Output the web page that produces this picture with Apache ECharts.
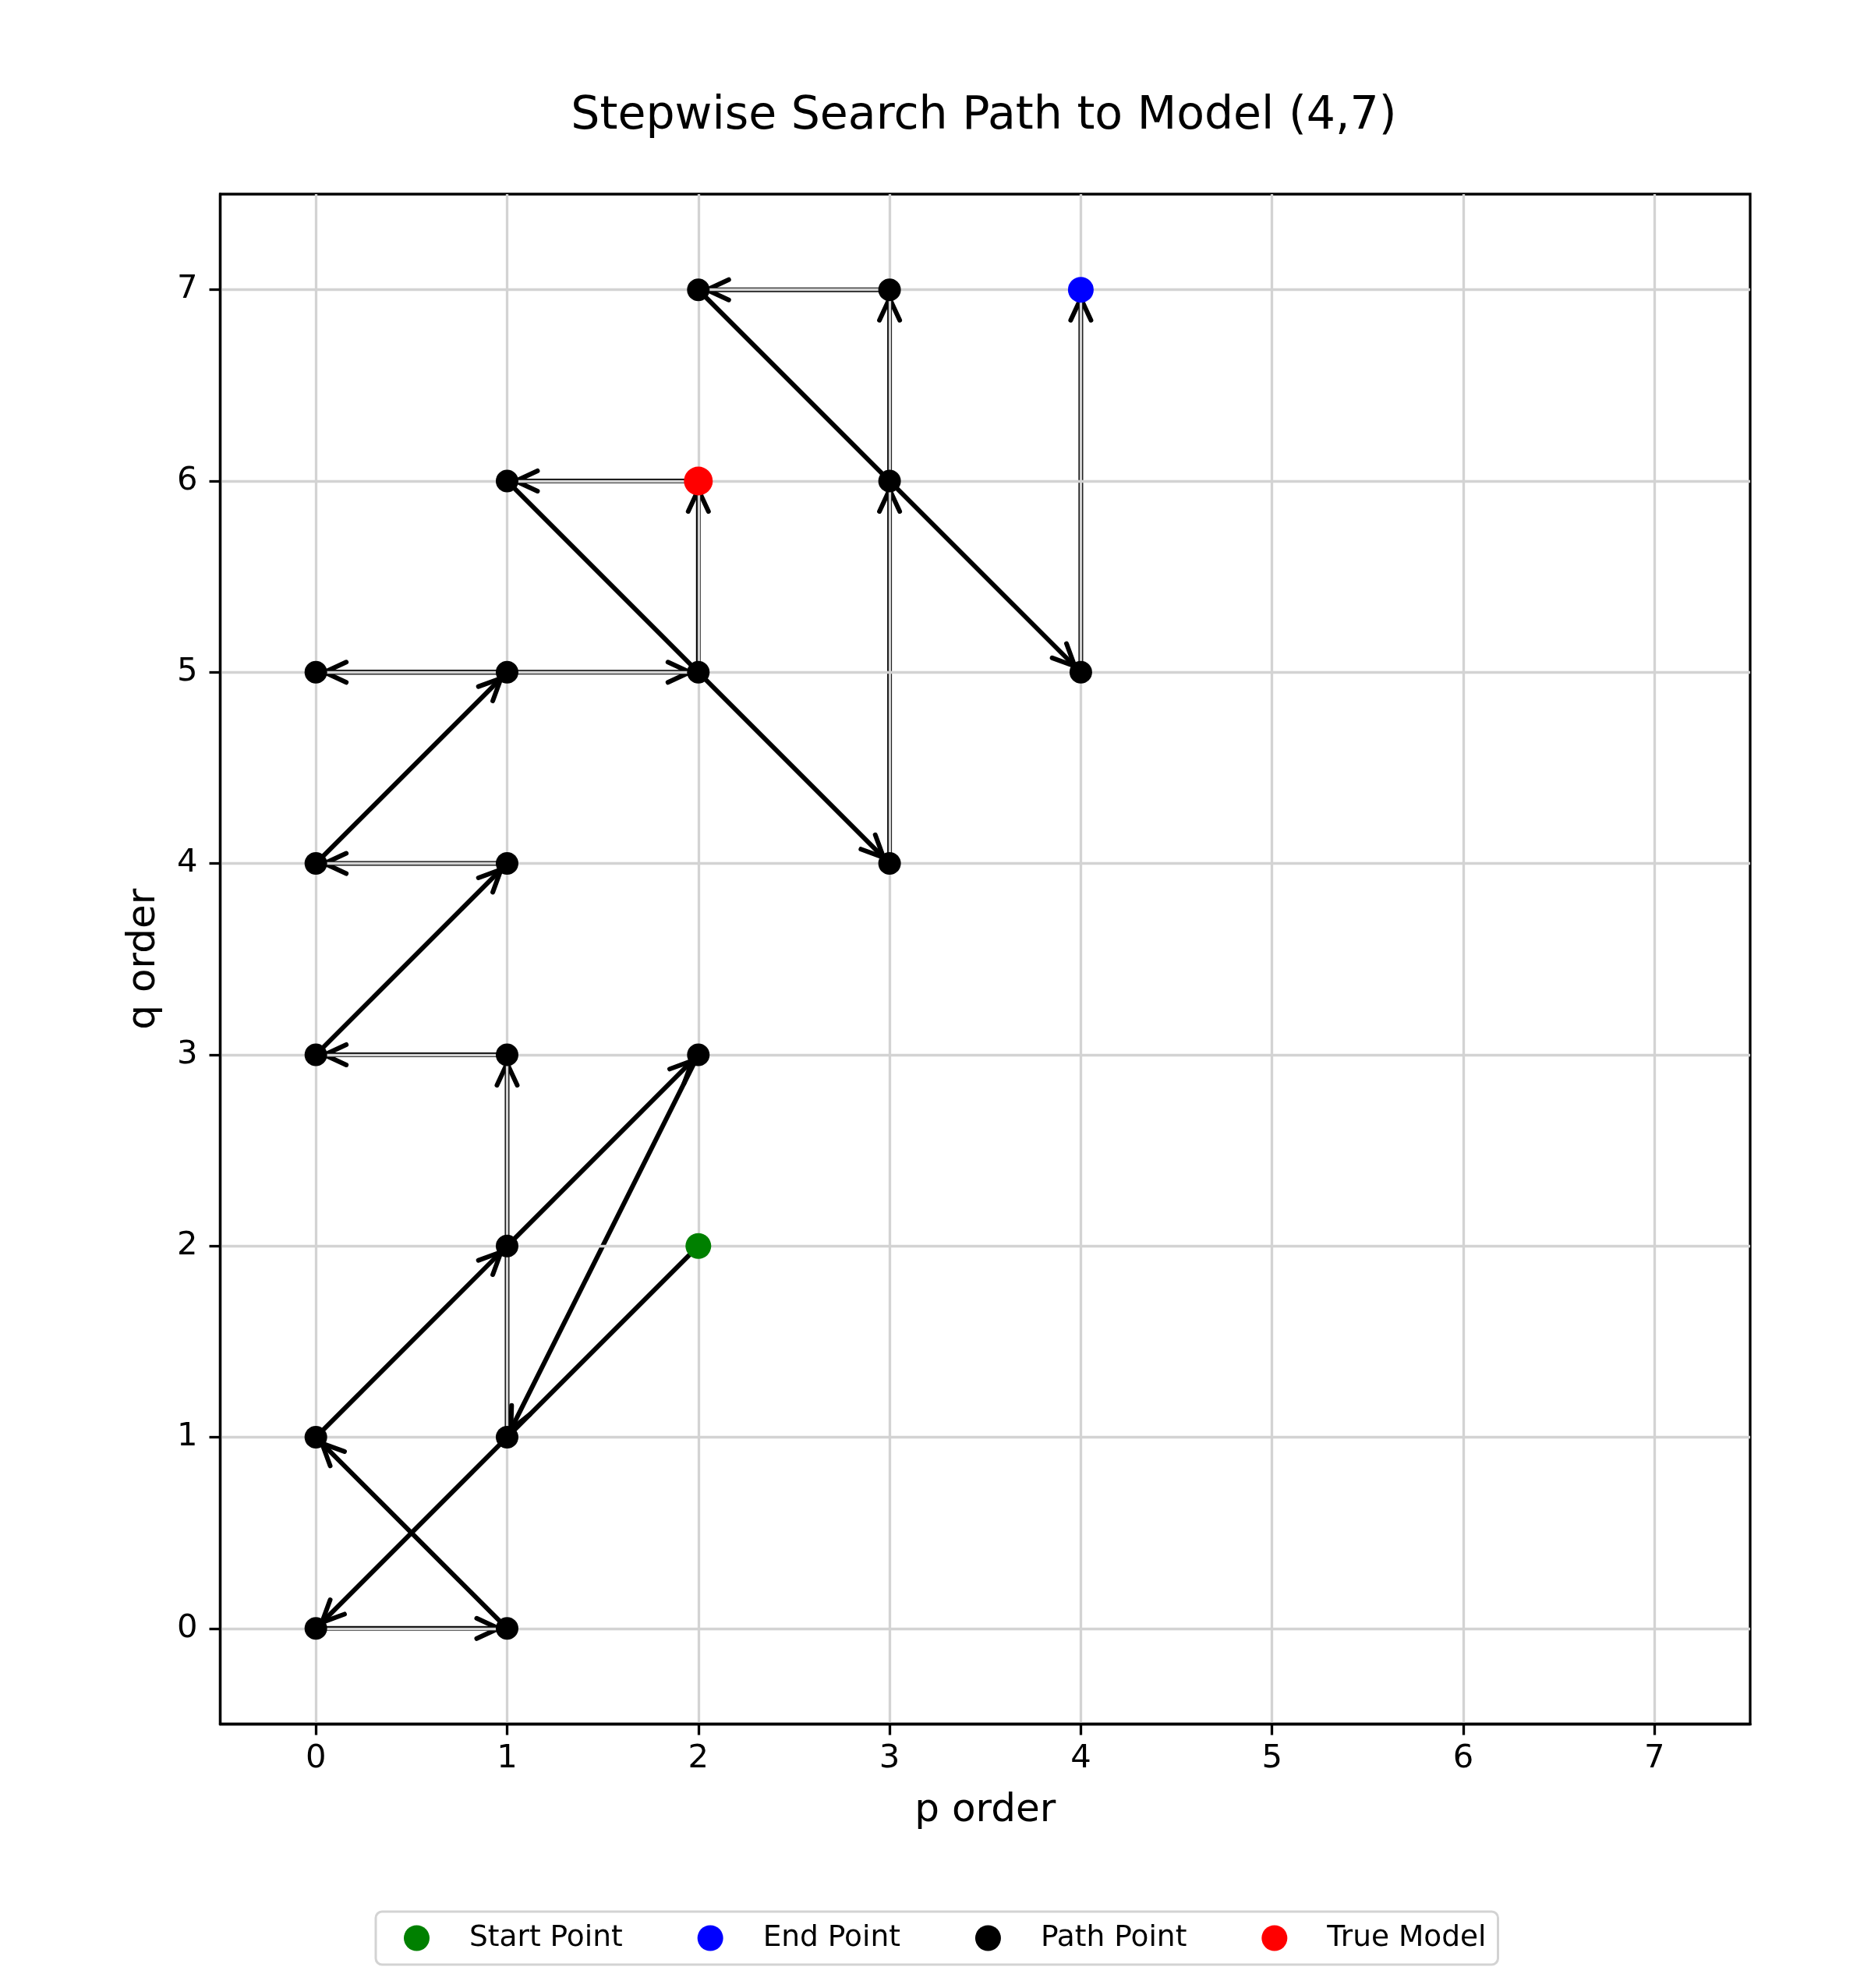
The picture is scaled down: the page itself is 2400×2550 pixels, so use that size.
<!DOCTYPE html>
<html>
<head>
<meta charset="utf-8">
<script src="https://cdn.jsdelivr.net/npm/echarts@6/dist/echarts.min.js"></script>
<style>
html, body { margin: 0; padding: 0; background: #fff; }
#chart { width: 2400px; height: 2550px; }
</style>
</head>
<body>
<div id="chart"></div>
<script>
// visited (p,q) models in search order
var pPath = [2, 0, 1, 0, 1, 2, 1, 1, 0, 1, 0, 1, 0, 2, 2, 1, 3, 3, 3, 2, 4, 4];
var qPath = [2, 0, 0, 1, 2, 3, 1, 3, 3, 4, 4, 5, 5, 5, 6, 6, 4, 6, 7, 7, 5, 7];
var startPoint = [2, 2];
var endPoint = [4, 7];
var trueModel = [2, 6];
var tickValues = [0, 1, 2, 3, 4, 5, 6, 7];

var FONT = 'DejaVu Sans';
var myChart = echarts.init(document.getElementById('chart'));

// arrow segments between consecutive models
var segments = [];
for (var i = 0; i < pPath.length - 1; i++) {
    segments.push([pPath[i], qPath[i], pPath[i + 1], qPath[i + 1]]);
}
// unique path points
var pathPoints = [], seen = {};
for (var j = 0; j < pPath.length; j++) {
    var key = pPath[j] + ',' + qPath[j];
    if (!seen[key]) { seen[key] = 1; pathPoints.push([pPath[j], qPath[j]]); }
}

function renderArrow(params, api) {
    var a = api.coord([api.value(0), api.value(1)]);
    var b = api.coord([api.value(2), api.value(3)]);
    var dx = b[0] - a[0], dy = b[1] - a[1];
    var len = Math.sqrt(dx * dx + dy * dy);
    var ux = dx / len, uy = dy / len;
    var s = [a[0] + ux * 8, a[1] + uy * 8];
    var t = [b[0] - ux * 11, b[1] - uy * 11];
    var hl = 28, hw = 13;
    var w1 = [t[0] - ux * hl - uy * hw, t[1] - uy * hl + ux * hw];
    var w2 = [t[0] - ux * hl + uy * hw, t[1] - uy * hl - ux * hw];
    return {
        type: 'group',
        children: [
            { type: 'line', shape: { x1: s[0], y1: s[1], x2: t[0], y2: t[1] },
              style: { stroke: '#000', lineWidth: 6 } },
            { type: 'polyline', shape: { points: [w1, t, w2] },
              style: { stroke: '#000', fill: null, lineWidth: 6, lineCap: 'round', lineJoin: 'round' } }
        ]
    };
}

function axisCommon(name, gap, margin) {
    return {
        type: 'value',
        min: -0.5,
        max: 7.5,
        name: name,
        nameLocation: 'middle',
        nameGap: gap,
        nameTextStyle: { fontFamily: FONT, fontSize: 50, color: '#000' },
        axisLine: { show: true, onZero: false, lineStyle: { color: '#000', width: 3.3 } },
        axisTick: { show: true, length: 14, customValues: tickValues, lineStyle: { color: '#000', width: 3.3 } },
        axisLabel: { customValues: tickValues, fontFamily: FONT, fontSize: 41.7, color: '#000', margin: margin },
        splitLine: { show: true, lineStyle: { color: '#d3d3d3', width: 3.3 } }
    };
}

option = {
    animation: false,
    backgroundColor: '#fff',
    title: {
        text: 'Stepwise Search Path to Model (4,7)',
        left: 1257,
        textAlign: 'center',
        top: 115,
        textStyle: { fontFamily: FONT, fontSize: 58.5, fontWeight: 'normal', color: '#000' }
    },
    grid: {
        left: 282.5, right: 155, top: 249, bottom: 338.5,
        show: true, borderColor: '#000', borderWidth: 3.3, backgroundColor: 'transparent'
    },
    legend: {
        data: ['Start Point', 'End Point', 'Path Point', 'True Model'],
        selectedMode: false,
        left: 482,
        top: 2452,
        icon: 'circle',
        itemWidth: 33,
        itemHeight: 33,
        itemGap: 96,
        padding: [15, 15, 15, 36],
        borderColor: '#d3d3d3',
        borderWidth: 3,
        borderRadius: 8,
        textStyle: { fontFamily: FONT, fontSize: 37.5, color: '#000', padding: [0, 0, 0, 46] }
    },
    xAxis: axisCommon('p order', 87, 24),
    yAxis: axisCommon('q order', 72, 29),
    series: [
        {
            type: 'custom',
            name: 'arrows',
            z: -1,
            silent: true,
            renderItem: renderArrow,
            encode: { x: [0, 2], y: [1, 3] },
            data: segments
        },
        {
            type: 'scatter', name: 'Path Point', z: 5, symbolSize: 29,
            itemStyle: { color: '#000', opacity: 1 }, data: pathPoints
        },
        {
            type: 'scatter', name: 'Start Point', z: 6, symbolSize: 33,
            itemStyle: { color: '#008000', opacity: 1 }, data: [startPoint]
        },
        {
            type: 'scatter', name: 'End Point', z: 6, symbolSize: 33,
            itemStyle: { color: '#0000ff', opacity: 1 }, data: [endPoint]
        },
        {
            type: 'scatter', name: 'True Model', z: 6, symbolSize: 37,
            itemStyle: { color: '#ff0000', opacity: 1 }, data: [trueModel]
        }
    ]
};

if (option && typeof option === "object") {
    myChart.setOption(option, true);
}
</script>
</body>
</html>
